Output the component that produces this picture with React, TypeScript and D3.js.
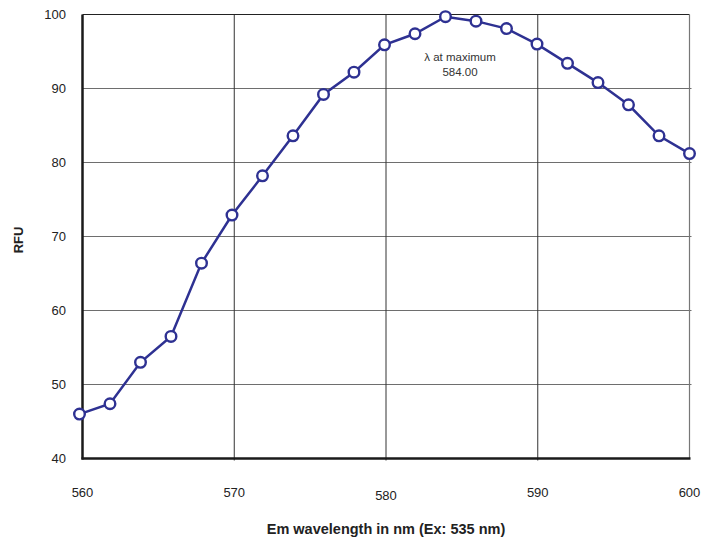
import React, { useRef, useEffect } from 'react';
import * as d3 from 'd3';

const wavelengths = [560, 562, 564, 566, 568, 570, 572, 574, 576, 578, 580, 582, 584, 586, 588, 590, 592, 594, 596, 598, 600];
const rfu = [46.0, 47.4, 53.0, 56.5, 66.4, 72.9, 78.2, 83.6, 89.2, 92.2, 95.9, 97.4, 99.7, 99.1, 98.1, 96.0, 93.4, 90.8, 87.8, 83.6, 81.2];
const xTicks = [560, 570, 580, 590, 600];
const yTicks = [40, 50, 60, 70, 80, 90, 100];

const App = () => {
  const svgRef = useRef<SVGSVGElement>(null);
  const width = 702;
  const height = 539;

  useEffect(() => {
    const svg = d3.select(svgRef.current);
    svg.selectAll('*').remove();

    const left = 82.5, right = 689.5, top = 14.5, bottom = 458.5;
    const font = 'Liberation Sans, Arial, sans-serif';

    const x = d3.scaleLinear().domain([560, 600]).range([left, right]);
    const y = d3.scaleLinear().domain([40, 100]).range([bottom, top]);

    const data = wavelengths.map((w, i) => ({ w, v: rfu[i] }));

    // grid
    svg.append('g')
      .selectAll('line')
      .data(yTicks.filter(t => t > 40 && t < 100))
      .enter()
      .append('line')
      .attr('x1', left).attr('x2', right + 2)
      .attr('y1', d => y(d)).attr('y2', d => y(d))
      .attr('stroke', '#6e6e6e').attr('stroke-width', 1);

    svg.append('g')
      .selectAll('line')
      .data(xTicks.filter(t => t > 560 && t < 600))
      .enter()
      .append('line')
      .attr('x1', d => x(d)).attr('x2', d => x(d))
      .attr('y1', top).attr('y2', bottom + 2)
      .attr('stroke', '#333').attr('stroke-width', 1);

    // frame
    svg.append('line').attr('x1', left).attr('x2', right).attr('y1', top).attr('y2', top)
      .attr('stroke', '#222').attr('stroke-width', 1);
    svg.append('line').attr('x1', right).attr('x2', right).attr('y1', top).attr('y2', bottom)
      .attr('stroke', '#777').attr('stroke-width', 1.2);
    svg.append('line').attr('x1', left).attr('x2', left).attr('y1', top).attr('y2', bottom + 1)
      .attr('stroke', '#1a1a1a').attr('stroke-width', 2.5);
    svg.append('line').attr('x1', left - 1).attr('x2', right + 1).attr('y1', bottom).attr('y2', bottom)
      .attr('stroke', '#1a1a1a').attr('stroke-width', 2.5);

    // tick labels
    svg.append('g')
      .selectAll('text')
      .data(yTicks)
      .enter()
      .append('text')
      .attr('x', 66).attr('y', d => y(d))
      .attr('dy', '0.35em')
      .attr('text-anchor', 'end')
      .attr('font-family', font).attr('font-size', 13).attr('fill', '#222')
      .text(d => d);

    svg.append('g')
      .selectAll('text')
      .data(xTicks)
      .enter()
      .append('text')
      .attr('x', d => x(d)).attr('y', d => (d === 580 ? 495 : 492))
      .attr('dy', '0.35em')
      .attr('text-anchor', 'middle')
      .attr('font-family', font).attr('font-size', 13).attr('fill', '#222')
      .text(d => d);

    // axis titles
    svg.append('text')
      .attr('x', 386).attr('y', 534)
      .attr('text-anchor', 'middle')
      .attr('font-family', font).attr('font-size', 14.5).attr('font-weight', 'bold').attr('fill', '#222')
      .text('Em wavelength in nm (Ex: 535 nm)');

    svg.append('text')
      .attr('transform', 'translate(23,240) rotate(-90)')
      .attr('text-anchor', 'middle')
      .attr('font-family', font).attr('font-size', 13).attr('font-weight', 'bold').attr('fill', '#222')
      .text('RFU');

    // line + markers
    const px = (w: number) => x(w) - 3 * (1 - (w - 560) / 40);
    const line = d3.line<{ w: number; v: number }>()
      .x(d => px(d.w))
      .y(d => y(d.v));

    svg.append('path')
      .datum(data)
      .attr('d', line)
      .attr('fill', 'none')
      .attr('stroke', '#2e3192')
      .attr('stroke-width', 2.5);

    svg.append('g')
      .selectAll('circle')
      .data(data)
      .enter()
      .append('circle')
      .attr('cx', d => px(d.w))
      .attr('cy', d => y(d.v))
      .attr('r', 5.3)
      .attr('fill', '#fff')
      .attr('stroke', '#2e3192')
      .attr('stroke-width', 2.4);

    // annotation
    svg.append('text')
      .attr('x', 460).attr('y', 61)
      .attr('text-anchor', 'middle')
      .attr('font-family', font).attr('font-size', 11.5).attr('fill', '#333')
      .text('λ at maximum');
    svg.append('text')
      .attr('x', 460).attr('y', 76)
      .attr('text-anchor', 'middle')
      .attr('font-family', font).attr('font-size', 11.5).attr('fill', '#333')
      .text('584.00');
  }, []);

  return (
    <svg ref={svgRef} width={width} height={height} style={{ position: 'absolute', left: 0, top: 0 }}></svg>
  );
};

export default App;
